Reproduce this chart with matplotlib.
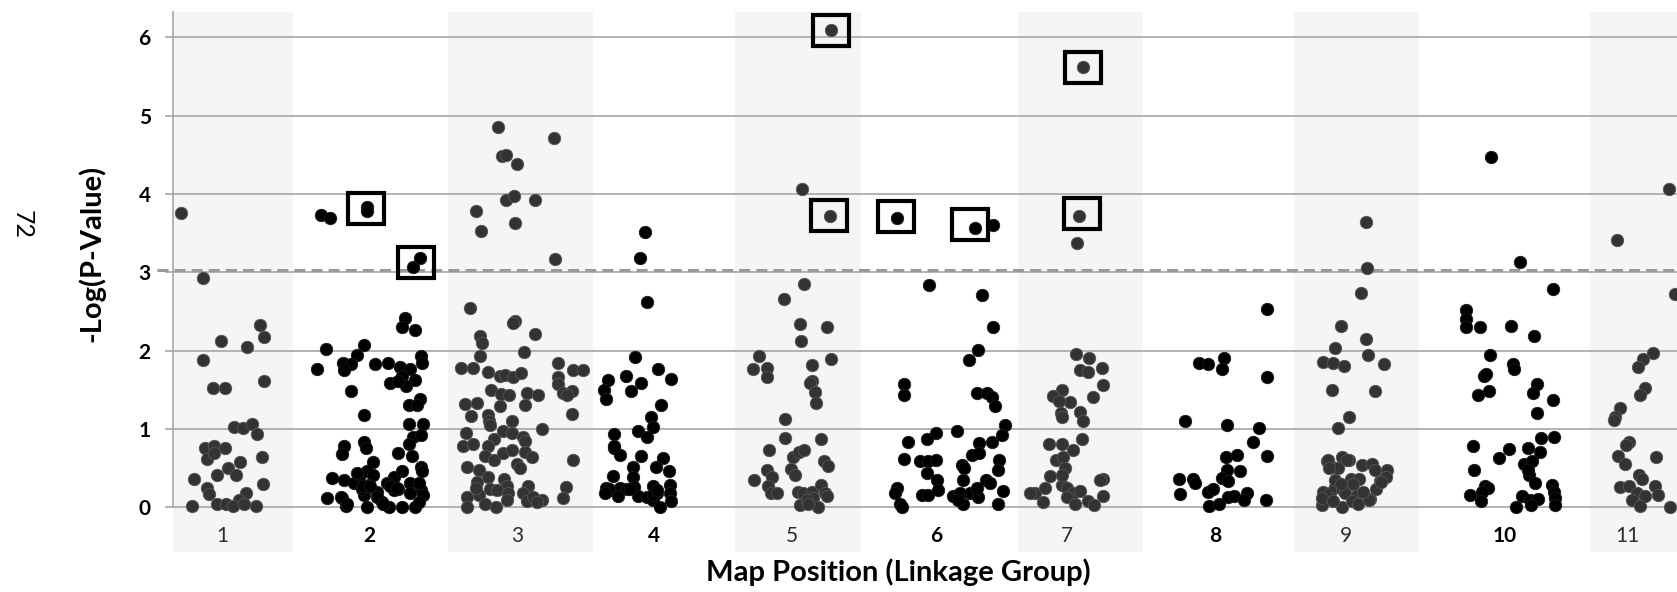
import numpy as np
import matplotlib.pyplot as plt
from matplotlib.patches import Rectangle

plt.rcParams['font.family'] = ['Lato', 'DejaVu Sans']

# map positions (cumulative) and -log10(p) for each linkage group
pos_1 = [8, 30, 87, 91, 48, 74, 30, 40, 52, 91, 61, 70, 79, 84, 32, 41, 52, 34, 41, 89,
         67, 55, 44, 63, 21, 90, 34, 36, 73, 66, 44, 53, 60, 71, 83, 19]
val_1 = [3.76, 2.93, 2.33, 2.17, 2.13, 2.05, 1.88, 1.52, 1.53, 1.62, 1.03, 1.02, 1.07, 0.94,
         0.76, 0.78, 0.76, 0.62, 0.69, 0.64, 0.58, 0.50, 0.42, 0.42, 0.36, 0.30, 0.25, 0.17,
         0.19, 0.10, 0.05, 0.05, 0.02, 0.05, 0.02, 0.02]

pos_2 = [148, 157, 194, 194, 240, 247,
         232, 229, 242, 153, 191, 184, 144, 170, 178, 171, 202, 215, 227, 237, 248, 249, 229,
         242, 217, 233, 225, 178, 247, 236, 244, 191, 236, 250, 240, 248, 236, 191, 193, 171,
         169, 225, 239, 200, 248, 249, 159, 171, 181, 187, 194, 200, 196, 221, 229, 237, 225,
         214, 248, 250, 154, 169, 191, 204, 237, 173, 194, 216, 229, 242, 209, 189, 221, 246,
         246, 190, 197, 204, 217, 168, 174, 210, 224, 184]
val_2 = [3.73, 3.70, 3.83, 3.79, 3.07, 3.18,
         2.42, 2.30, 2.27, 2.02, 2.08, 1.94, 1.77, 1.85, 1.83, 1.75, 1.83, 1.85, 1.79, 1.77,
         1.93, 1.84, 1.68, 1.63, 1.59, 1.55, 1.61, 1.49, 1.38, 1.31, 1.31, 1.18, 1.06, 1.07,
         0.90, 0.92, 0.81, 0.84, 0.76, 0.78, 0.68, 0.69, 0.66, 0.58, 0.52, 0.46, 0.38, 0.35,
         0.31, 0.42, 0.46, 0.42, 0.29, 0.39, 0.46, 0.31, 0.24, 0.31, 0.22, 0.16, 0.12, 0.12,
         0.16, 0.20, 0.18, 0.02, 0.00, 0.00, 0.00, 0.01, 0.07, 0.24, 0.22, 0.07, 0.31, 0.27,
         0.27, 0.14, 0.27, 0.14, 0.05, 0.05, 0.25, 0.44]

pos_3 = [325, 329, 333, 344, 381, 333, 341, 362, 303, 308, 342, 382,
         297, 342, 340, 362, 307, 309, 351, 307, 288, 300, 315, 327, 332, 340, 348, 385, 400,
         410, 385, 385, 390, 399, 394, 318, 328, 336, 354, 365, 292, 304, 327, 352, 298, 315,
         399, 316, 317, 339, 330, 339, 369, 293, 321, 350, 352, 290, 300, 315, 312, 321, 330,
         339, 352, 359, 294, 344, 347, 400, 306, 304, 315, 331, 334, 355, 393, 390, 294, 294,
         306, 312, 317, 324, 323, 335, 334, 350, 354, 360, 369, 303, 364]
val_3 = [4.86, 4.49, 4.50, 4.39, 4.71, 3.92, 3.98, 3.92, 3.78, 3.53, 3.63, 3.17,
         2.55, 2.38, 2.35, 2.22, 2.19, 2.10, 1.99, 1.93, 1.78, 1.78, 1.73, 1.68, 1.69, 1.66,
         1.72, 1.85, 1.75, 1.75, 1.67, 1.58, 1.46, 1.49, 1.44, 1.50, 1.45, 1.43, 1.46, 1.44,
         1.32, 1.33, 1.29, 1.31, 1.17, 1.18, 1.19, 1.10, 1.05, 1.10, 0.98, 0.95, 1.00, 0.95,
         0.88, 0.90, 0.85, 0.78, 0.81, 0.78, 0.66, 0.61, 0.69, 0.73, 0.71, 0.65, 0.52, 0.56,
         0.51, 0.60, 0.48, 0.33, 0.39, 0.37, 0.27, 0.27, 0.26, 0.12, 0.14, 0.01, 0.16, 0.05,
         0.23, 0.22, 0.01, 0.18, 0.10, 0.18, 0.08, 0.14, 0.10, 0.25, 0.07]

pos_4 = [472, 467, 474, 462, 453, 468, 485, 498, 435, 431, 433, 458, 488, 478, 480, 465,
         474, 441, 441, 447, 468, 460, 490, 483, 496, 440, 460, 461, 433, 437, 447, 454,
         445, 465, 480, 484, 480, 497, 497, 498, 487, 474, 436, 457, 480, 432, 484, 441]
val_4 = [3.51, 3.18, 2.62, 1.92, 1.68, 1.59, 1.77, 1.64, 1.63, 1.50, 1.38, 1.49, 1.31, 1.15,
         1.03, 0.97, 0.90, 0.94, 0.76, 0.67, 0.66, 0.52, 0.63, 0.52, 0.47, 0.40, 0.39, 0.26,
         0.25, 0.22, 0.25, 0.23, 0.15, 0.15, 0.27, 0.18, 0.09, 0.29, 0.18, 0.08, 0.00, 0.14,
         0.24, 0.23, 0.16, 0.18, 0.22, 0.78]

pos_5 = [658, 629, 657, 631, 611, 627, 628, 654, 586, 580, 594, 594, 658, 639, 639, 637,
         642, 643, 612, 612, 648, 596, 620, 626, 631, 651, 655, 594, 599, 618, 622, 581,
         595, 598, 604, 625, 630, 627, 639, 640, 634, 648, 652, 654, 645, 635]
val_5 = [6.10, 4.07, 3.72, 2.85, 2.66, 2.34, 2.13, 2.30, 1.93, 1.77, 1.78, 1.66, 1.90, 1.82,
         1.61, 1.59, 1.47, 1.33, 1.13, 0.89, 0.87, 0.73, 0.64, 0.71, 0.73, 0.59, 0.53, 0.48,
         0.39, 0.49, 0.42, 0.35, 0.27, 0.18, 0.19, 0.20, 0.18, 0.03, 0.20, 0.12, 0.10, 0.29,
         0.18, 0.15, 0.01, 0.05]

pos_6 = [724, 802, 820, 756, 809, 820, 805, 796, 731, 731, 804, 814, 819, 822, 832, 829,
         819, 806, 784, 763, 754, 735, 731, 747, 755, 763, 789, 791, 799, 806, 826, 825,
         754, 764, 790, 813, 817, 724, 722, 727, 729, 749, 755, 765, 780, 787, 790, 797,
         805, 804, 830, 825, 785]
val_6 = [3.70, 3.57, 3.60, 2.84, 2.71, 2.30, 2.01, 1.88, 1.58, 1.44, 1.46, 1.46, 1.41, 1.30,
         1.05, 0.93, 0.84, 0.82, 0.98, 0.95, 0.88, 0.84, 0.62, 0.59, 0.59, 0.61, 0.54, 0.50,
         0.67, 0.69, 0.61, 0.48, 0.44, 0.35, 0.35, 0.35, 0.31, 0.25, 0.18, 0.05, 0.01, 0.16,
         0.16, 0.22, 0.15, 0.18, 0.05, 0.18, 0.14, 0.25, 0.21, 0.05, 0.10]

pos_7 = [910, 906, 904, 903, 916, 907, 915, 929, 930, 889, 880, 897, 886, 920, 888, 889,
         907, 910, 909, 876, 889, 900, 883, 890, 892, 877, 930, 927, 862, 872, 870, 889,
         894, 900, 907, 894, 902, 915, 921, 930, 889, 857]
val_7 = [5.62, 3.72, 3.37, 1.96, 1.91, 1.75, 1.73, 1.78, 1.56, 1.50, 1.42, 1.35, 1.36, 1.41,
         1.20, 1.15, 1.22, 1.10, 0.87, 0.81, 0.81, 0.73, 0.61, 0.65, 0.50, 0.40, 0.37, 0.35,
         0.18, 0.25, 0.07, 0.29, 0.25, 0.18, 0.21, 0.14, 0.05, 0.08, 0.03, 0.15, 0.41, 0.18]

pos_8 = [1094, 1026, 1035, 1051, 1049, 1094, 1012, 1054, 1086, 1080, 1094, 1053, 1064,
         1054, 1067, 1049, 1055, 1006, 1020, 1022, 1007, 1035, 1040, 1036, 1046, 1055,
         1061, 1074, 1071, 1093]
val_8 = [2.53, 1.84, 1.83, 1.91, 1.77, 1.67, 1.10, 1.05, 1.01, 0.83, 0.66, 0.64, 0.67, 0.48,
         0.46, 0.38, 0.34, 0.36, 0.36, 0.31, 0.17, 0.20, 0.23, 0.02, 0.05, 0.13, 0.15, 0.19,
         0.09, 0.10]

pos_9 = [1193, 1194, 1188, 1168, 1162, 1150, 1160, 1171, 1159, 1165, 1176, 1193, 1195, 1211,
         1202, 1154, 1159, 1169, 1165, 1150, 1157, 1162, 1169, 1172, 1149, 1169, 1149, 1176,
         1189, 1199, 1214, 1202, 1178, 1207, 1203, 1197, 1184, 1179, 1155, 1174, 1156, 1213,
         1208, 1196, 1186, 1180, 1162, 1168, 1190, 1160, 1185]
val_9 = [3.64, 3.06, 2.74, 2.32, 2.03, 1.86, 1.84, 1.81, 1.50, 1.02, 1.16, 2.15, 1.94, 1.83,
         1.49, 0.59, 0.52, 0.65, 0.50, 0.20, 0.18, 0.26, 0.24, 0.18, 0.03, 0.01, 0.12, 0.61,
         0.54, 0.56, 0.48, 0.48, 0.37, 0.34, 0.23, 0.11, 0.16, 0.08, 0.60, 0.61, 0.50, 0.39,
         0.33, 0.10, 0.37, 0.30, 0.35, 0.30, 0.20, 0.08, 0.05]

pos_10 = [1318, 1347, 1380, 1293, 1293, 1293, 1307, 1338, 1361, 1317, 1340, 1341, 1311,
          1313, 1316, 1305, 1364, 1360, 1380, 1364, 1368, 1381, 1367, 1300, 1336, 1326,
          1355, 1351, 1359, 1301, 1356, 1362, 1312, 1315, 1309, 1297, 1308, 1349, 1357,
          1365, 1343, 1358, 1379, 1381, 1382, 1382, 1355]
val_10 = [4.47, 3.13, 2.79, 2.52, 2.41, 2.30, 2.30, 2.32, 2.19, 1.95, 1.83, 1.77, 1.68, 1.71,
          1.49, 1.44, 1.58, 1.46, 1.37, 1.20, 0.89, 0.90, 0.71, 0.78, 0.75, 0.63, 0.76, 0.56,
          0.59, 0.48, 0.42, 0.31, 0.27, 0.25, 0.20, 0.16, 0.08, 0.15, 0.10, 0.11, 0.01, 0.03,
          0.29, 0.20, 0.12, 0.03, 0.48]

pos_11 = [1444, 1496, 1502, 1480, 1470, 1465, 1472, 1467, 1447, 1442, 1441, 1456, 1453,
          1445, 1452, 1483, 1447, 1456, 1466, 1469, 1464, 1472, 1482, 1485, 1459, 1467, 1497]
val_11 = [3.41, 4.07, 2.73, 1.97, 1.90, 1.79, 1.53, 1.44, 1.27, 1.15, 1.12, 0.83, 0.80, 0.66,
          0.56, 0.65, 0.26, 0.27, 0.42, 0.37, 0.18, 0.15, 0.27, 0.16, 0.10, 0.02, 0.00]

group_pos = [pos_1, pos_2, pos_3, pos_4, pos_5, pos_6, pos_7, pos_8, pos_9, pos_10, pos_11]
group_val = [val_1, val_2, val_3, val_4, val_5, val_6, val_7, val_8, val_9, val_10, val_11]

group_edges = [0, 120, 275, 420, 562, 688, 845, 970, 1121, 1246, 1417, 1560]
label_pos = [49, 196, 344, 481, 619, 763, 894, 1042, 1173, 1332, 1454]
group_names = ['1', '2', '3', '4', '5', '6', '7', '8', '9', '10', '11']

# boxed QTL hits
hit_pos = [193, 243, 658, 656, 723, 797, 910, 909]
hit_val = [3.81, 3.125, 6.09, 3.73, 3.72, 3.61, 5.62, 3.75]

threshold = 3.03

W, H = 1677, 592
px_per_unit = 78.35

fig = plt.figure(figsize=(W / 100, H / 100), dpi=100)
ax = fig.add_axes([173 / W, 40 / H, 1 - 173 / W, 540 / H])
ax.set_xlim(0, 1504)
ax.set_ylim(-0.568, 6.324)

# alternating shaded bands for odd groups
for i in range(0, len(group_edges) - 1, 2):
    ax.axvspan(group_edges[i], group_edges[i + 1], color='#f5f5f5', zorder=0, lw=0)

ax.set_yticks(range(7))
ax.yaxis.grid(True, color='#a6a6a6', lw=1.2, zorder=0.5)
ax.set_axisbelow(True)
ax.tick_params(axis='y', length=6, width=1.2, color='#a6a6a6', pad=10, labelsize=15)
for t in ax.get_yticklabels():
    t.set_fontweight('bold')
ax.set_xticks([])
for s in ['top', 'right', 'bottom']:
    ax.spines[s].set_visible(False)
ax.spines['left'].set_bounds(0, 6.324)
ax.spines['left'].set_color('#a6a6a6')
ax.spines['left'].set_linewidth(1.2)

ax.plot([-16, 1504], [threshold, threshold], color='#9a9a9a', lw=2.2,
        linestyle=(0, (3.6, 2.0)), clip_on=False, zorder=1)

for i in range(len(group_pos)):
    if i % 2 == 0:
        fc, ec = '#333333', '#555555'
    else:
        fc, ec = '#000000', '#1a1a1a'
    ax.scatter(group_pos[i], group_val[i], s=80, c=fc, edgecolors=ec,
               linewidths=0.6, zorder=3)
    ax.text(label_pos[i], -0.364, group_names[i], ha='center', va='center',
            fontsize=15, color='#2e2e2e' if i % 2 == 0 else 'black',
            fontweight='normal' if i % 2 == 0 else 'bold', zorder=4)

bw, bh = 36, 31 / px_per_unit
for x, y in zip(hit_pos, hit_val):
    ax.add_patch(Rectangle((x - bw / 2, y - bh / 2), bw, bh, fill=False,
                           ec='black', lw=3, zorder=5))

fig.text(92 / W, 1 - 253 / H, '-Log(P-Value)', rotation=90, ha='center', va='center',
         fontsize=21, fontweight='bold')
fig.text(898 / W, 1 - 572 / H, 'Map Position (Linkage Group)', ha='center', va='center',
         fontsize=21, fontweight='bold')
fig.text(22 / W, 1 - 225 / H, '72', rotation=-90, ha='center', va='center', fontsize=18)

plt.savefig('out.png', dpi=100)
